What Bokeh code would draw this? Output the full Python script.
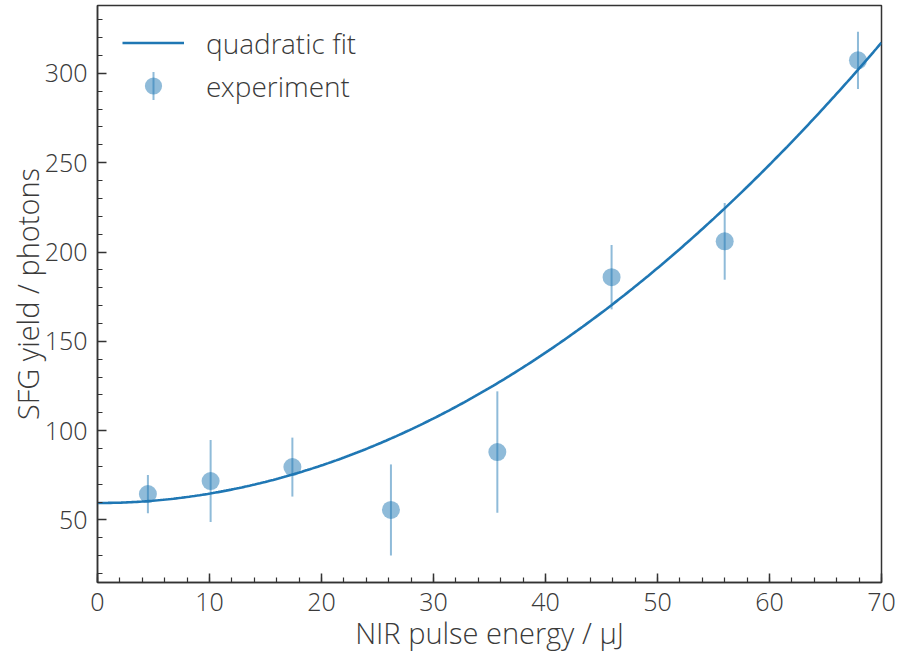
import numpy as np
from bokeh.plotting import figure
from bokeh.models import (ColumnDataSource, Range1d, SingleIntervalTicker, Legend,
                          LegendItem, BoxAnnotation)
from bokeh.embed import file_html
from bokeh.resources import INLINE

# ---- data ----
energy = [4.5, 10.1, 17.4, 26.2, 35.7, 45.9, 56.0, 67.9]          # µJ
yield_ph = [64.5, 71.8, 79.6, 55.6, 88.0, 185.9, 206.0, 307.3]     # photons
yield_err = [10.7, 23.0, 16.5, 25.5, 34.0, 18.0, 21.5, 16.0]
fit_coeffs = [0.0526, 0.0, 59.5]   # quadratic fit a*x^2 + b*x + c
x_ticks = [0, 10, 20, 30, 40, 50, 60, 70]
y_ticks = [50, 100, 150, 200, 250, 300]

BLUE = "#1f77b4"
TXT = "#3a3a3a"
FONT = "Open Sans Light, Open Sans"

src = ColumnDataSource(dict(
    x=energy, y=yield_ph,
    lo=[v - e for v, e in zip(yield_ph, yield_err)],
    hi=[v + e for v, e in zip(yield_ph, yield_err)],
))
xf = np.linspace(0, 70, 300)
fit_src = ColumnDataSource(dict(x=xf, y=np.polyval(fit_coeffs, xf)))

p = figure(width=896, height=656, output_backend="svg", toolbar_location=None,
           x_range=Range1d(0, 70), y_range=Range1d(15, 338),
           min_border_left=97, min_border_right=15, min_border_top=5, min_border_bottom=74)
p.xgrid.visible = False
p.ygrid.visible = False
p.outline_line_color = "#333333"
p.outline_line_width = 1.5
p.outline_line_alpha = 1.0

fit_r = p.line("x", "y", source=fit_src, line_color=BLUE, line_width=2.6)
err_r = p.segment(x0="x", y0="lo", x1="x", y1="hi", source=src,
                  line_color=BLUE, line_alpha=0.5, line_width=2)
pts_r = p.scatter("x", "y", source=src, size=18, fill_color=BLUE, fill_alpha=0.5,
                  line_color=None)

LEG_X, LEG_Y = 25, 475   # legend offset from the frame's bottom-left (screen px)
GW, GH = 62, 43
legend = Legend(items=[LegendItem(label="quadratic fit", renderers=[fit_r]),
                       LegendItem(label="experiment", renderers=[pts_r])],
                location=(LEG_X, LEG_Y))
legend.glyph_width = GW
legend.glyph_height = GH
legend.spacing = 0
legend.padding = 10
legend.label_standoff = 22
legend.label_text_font = FONT
legend.label_text_font_size = "28px"
legend.label_text_color = TXT
legend.border_line_color = None
legend.background_fill_alpha = 0
p.add_layout(legend)

# error-bar stroke of the "experiment" legend symbol (screen units, frame-relative)
sym_cx = LEG_X + GW / 2
sym_cy = LEG_Y + GH / 2
p.add_layout(BoxAnnotation(left=sym_cx - 1, right=sym_cx + 1,
                           bottom=sym_cy - 14, top=sym_cy + 14,
                           left_units="screen", right_units="screen",
                           bottom_units="screen", top_units="screen",
                           fill_color=BLUE, fill_alpha=0.5, line_color=None))

for ax in (p.xaxis[0], p.yaxis[0]):
    ax.axis_line_color = "#333333"
    ax.axis_line_width = 1.5
    ax.major_tick_line_color = "#333333"
    ax.major_tick_line_width = 1.5
    ax.minor_tick_line_color = "#333333"
    ax.minor_tick_line_width = 1.2
    ax.major_tick_in = 9
    ax.major_tick_out = 0
    ax.minor_tick_in = 5
    ax.minor_tick_out = 0
    ax.major_label_text_font = FONT
    ax.major_label_text_font_size = "25px"
    ax.major_label_text_color = TXT
    ax.axis_label_text_font = FONT
    ax.axis_label_text_font_size = "29px"
    ax.axis_label_text_font_style = "normal"
    ax.axis_label_text_color = TXT

p.xaxis.ticker = SingleIntervalTicker(interval=10, num_minor_ticks=5)
p.yaxis.ticker = SingleIntervalTicker(interval=50, num_minor_ticks=5)
p.xaxis.major_label_overrides = {t: str(t) for t in x_ticks}
p.yaxis.major_label_overrides = {t: str(t) for t in y_ticks}
p.xaxis.axis_label = "NIR pulse energy / μJ"
p.yaxis.axis_label = "SFG yield / photons"
p.xaxis.major_label_standoff = 10
p.yaxis.major_label_standoff = 10
p.xaxis.axis_label_standoff = -1
p.yaxis.axis_label_standoff = -5

open("out.html", "w").write(file_html(p, INLINE))
